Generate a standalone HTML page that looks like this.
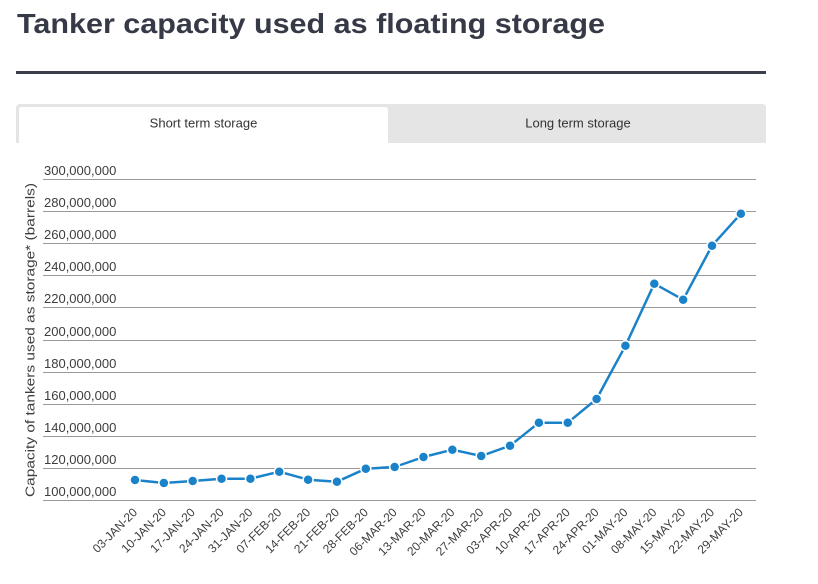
<!DOCTYPE html>
<html>
<head>
<meta charset="utf-8">
<style>
  html,body{margin:0;padding:0;background:#fff;}
  svg{display:block;}
  text{font-family:"Liberation Sans",sans-serif;}
</style>
</head>
<body>
<svg width="818" height="584" viewBox="0 0 818 584" xmlns="http://www.w3.org/2000/svg">
  <rect width="818" height="584" fill="#fff"/>
  <!-- Title -->
  <text x="17" y="33" font-size="28" font-weight="bold" fill="#363a47" textLength="588" lengthAdjust="spacingAndGlyphs">Tanker capacity used as floating storage</text>
  <rect x="16" y="71" width="750" height="3" fill="#3a3e4b"/>

  <!-- Tabs -->
  <path d="M16,108 Q16,104 20,104 L762,104 Q766,104 766,108 L766,143 L16,143 Z" fill="#e5e5e5"/>
  <path d="M19,110 Q19,107 22,107 L385,107 Q388,107 388,110 L388,143 L19,143 Z" fill="#fff"/>
  <text x="203.5" y="127.5" font-size="13" fill="#333" text-anchor="middle">Short term storage</text>
  <text x="578" y="127.5" font-size="13" fill="#333" text-anchor="middle">Long term storage</text>

  <!-- Gridlines -->
  <g stroke="#9a9a9a" stroke-width="1">
    <line x1="43" x2="756" y1="179.5" y2="179.5"/>
    <line x1="43" x2="756" y1="211.5" y2="211.5"/>
    <line x1="43" x2="756" y1="243.5" y2="243.5"/>
    <line x1="43" x2="756" y1="275.5" y2="275.5"/>
    <line x1="43" x2="756" y1="307.5" y2="307.5"/>
    <line x1="43" x2="756" y1="340.5" y2="340.5"/>
    <line x1="43" x2="756" y1="372.5" y2="372.5"/>
    <line x1="43" x2="756" y1="404.5" y2="404.5"/>
    <line x1="43" x2="756" y1="436.5" y2="436.5"/>
    <line x1="43" x2="756" y1="468.5" y2="468.5"/>
    <line x1="43" x2="756" y1="500.5" y2="500.5"/>
  </g>

  <!-- Y labels -->
  <g font-size="13" fill="#3d3d3d">
    <text x="44" y="175">300,000,000</text>
    <text x="44" y="207">280,000,000</text>
    <text x="44" y="239">260,000,000</text>
    <text x="44" y="271">240,000,000</text>
    <text x="44" y="303">220,000,000</text>
    <text x="44" y="336">200,000,000</text>
    <text x="44" y="368">180,000,000</text>
    <text x="44" y="400">160,000,000</text>
    <text x="44" y="432">140,000,000</text>
    <text x="44" y="464">120,000,000</text>
    <text x="44" y="496">100,000,000</text>
  </g>

  <!-- Y axis title -->
  <text transform="translate(34.5,340) rotate(-90)" font-size="13" fill="#3d3d3d" text-anchor="middle" textLength="314" lengthAdjust="spacingAndGlyphs">Capacity of tankers used as storage* (barrels)</text>

  <!-- Series -->
  <polyline fill="none" stroke="#1a82c9" stroke-width="2.5" stroke-linejoin="round"
    points="135,480 163.85,483 192.7,481 221.55,478.7 250.4,478.7 279.25,471.7 308.1,479.7 336.95,481.7 365.8,468.7 394.65,467 423.5,457 452.35,449.7 481.2,456 510.05,445.7 538.9,422.7 567.75,422.7 596.6,399 625.45,345.7 654.3,283.7 683.15,299.7 712,245.7 740.85,213.7"/>
  <g fill="#1a82c9" stroke="#fff" stroke-width="1.5">
    <circle cx="135" cy="480" r="5"/>
    <circle cx="163.85" cy="483" r="5"/>
    <circle cx="192.7" cy="481" r="5"/>
    <circle cx="221.55" cy="478.7" r="5"/>
    <circle cx="250.4" cy="478.7" r="5"/>
    <circle cx="279.25" cy="471.7" r="5"/>
    <circle cx="308.1" cy="479.7" r="5"/>
    <circle cx="336.95" cy="481.7" r="5"/>
    <circle cx="365.8" cy="468.7" r="5"/>
    <circle cx="394.65" cy="467" r="5"/>
    <circle cx="423.5" cy="457" r="5"/>
    <circle cx="452.35" cy="449.7" r="5"/>
    <circle cx="481.2" cy="456" r="5"/>
    <circle cx="510.05" cy="445.7" r="5"/>
    <circle cx="538.9" cy="422.7" r="5"/>
    <circle cx="567.75" cy="422.7" r="5"/>
    <circle cx="596.6" cy="399" r="5"/>
    <circle cx="625.45" cy="345.7" r="5"/>
    <circle cx="654.3" cy="283.7" r="5"/>
    <circle cx="683.15" cy="299.7" r="5"/>
    <circle cx="712" cy="245.7" r="5"/>
    <circle cx="740.85" cy="213.7" r="5"/>
  </g>

  <!-- X labels -->
  <g font-size="12" fill="#3d3d3d" text-anchor="end">
    <text transform="translate(138,513) rotate(-45)">03-JAN-20</text>
    <text transform="translate(166.85,513) rotate(-45)">10-JAN-20</text>
    <text transform="translate(195.7,513) rotate(-45)">17-JAN-20</text>
    <text transform="translate(224.55,513) rotate(-45)">24-JAN-20</text>
    <text transform="translate(253.4,513) rotate(-45)">31-JAN-20</text>
    <text transform="translate(282.25,513) rotate(-45)">07-FEB-20</text>
    <text transform="translate(311.1,513) rotate(-45)">14-FEB-20</text>
    <text transform="translate(339.95,513) rotate(-45)">21-FEB-20</text>
    <text transform="translate(368.8,513) rotate(-45)">28-FEB-20</text>
    <text transform="translate(397.65,513) rotate(-45)">06-MAR-20</text>
    <text transform="translate(426.5,513) rotate(-45)">13-MAR-20</text>
    <text transform="translate(455.35,513) rotate(-45)">20-MAR-20</text>
    <text transform="translate(484.2,513) rotate(-45)">27-MAR-20</text>
    <text transform="translate(513.05,513) rotate(-45)">03-APR-20</text>
    <text transform="translate(541.9,513) rotate(-45)">10-APR-20</text>
    <text transform="translate(570.75,513) rotate(-45)">17-APR-20</text>
    <text transform="translate(599.6,513) rotate(-45)">24-APR-20</text>
    <text transform="translate(628.45,513) rotate(-45)">01-MAY-20</text>
    <text transform="translate(657.3,513) rotate(-45)">08-MAY-20</text>
    <text transform="translate(686.15,513) rotate(-45)">15-MAY-20</text>
    <text transform="translate(715,513) rotate(-45)">22-MAY-20</text>
    <text transform="translate(743.85,513) rotate(-45)">29-MAY-20</text>
  </g>
</svg>
</body>
</html>
